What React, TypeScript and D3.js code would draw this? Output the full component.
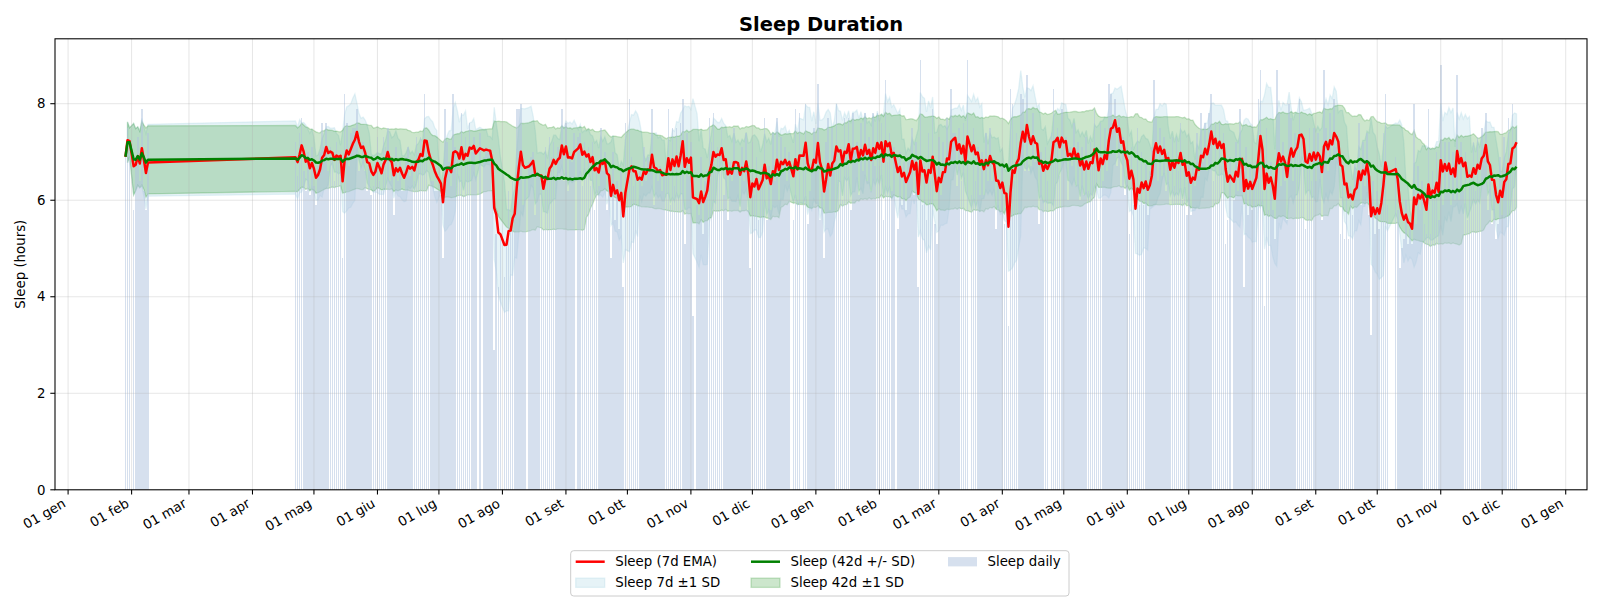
import React from 'react'
import * as d3 from 'd3'

const width = 1600
const height = 600
const plot = { left: 55, right: 1587, top: 38.8, bottom: 489.8 }
const DAY = 864e5
const font = 'DejaVu Sans, sans-serif'

const title = 'Sleep Duration'
const yLabel = 'Sleep (hours)'
const monthNames = ['gen', 'feb', 'mar', 'apr', 'mag', 'giu', 'lug', 'ago', 'set', 'ott', 'nov', 'dic']
const yTicks = [0, 2, 4, 6, 8]

// hours slept per night, one array per month from the given start date; null = no record
const jan2023 = [6.9, 7.5, 7.2]
const feb2023 = [null, 5.8, 6.8, 7.3, 6.4, 7.9, 6.2, 5.8, 7.4]
const apr2023 = [7.2, 6.5, 7.4, 7.7, 6.6, 6.2, 7.0, 6.1, 7.1]
const may2023 = [6.3, 5.9, 6.7, 7.0, 7.6, 7.1, 7.6, 6.6, 7.1, 6.9, 6.4, 7.2, 6.8, 7.0, 4.8, 8.2, 7.6, 6.7, 7.4, 7.5, 7.5, 7.9, 6.6, 6.7, 7.2, 6.6, 6.2, 6.7, 6.1, 6.3, 6.8]
const jun2023 = [7.3, 6.4, 6.2, 7.3, 7.1, 7.5, 6.4, 6.6, 5.7, 7.1, 6.4, 6.9, 6.2, 6.2, 6.9, 7.1, 6.5, 6.8, 6.4, 7.3, 7.0, 7.3, 6.8, 8.2, 7.2, 6.3, 6.4, 6.4, 6.2, 6.2]
const jul2023 = [6.2, 6.1, 4.8, 7.9, 7.2, 6.8, 6.3, 8.2, 7.1, 6.9, 6.5, 7.8, 6.1, 7.3, 6.8, 7.6, 7.0, 7.3, 6.5, null, 7.4, null, 6.9, 7.1, 7.0, 7.0, 6.2, 2.9, 5.3, 4.2, 5.2]
const aug2023 = [null, 4.4, 5.1, 6.2, 5.4, 6.4, 6.0, 7.9, 7.9, 8.0, 5.9, 6.5, null, 6.8, 6.9, 7.0, 5.7, 6.5, 6.5, 6.5, 5.4, 7.1, 6.4, 7.3, 6.9, 7.2, 6.5, 7.1, 7.0, 7.9, 6.4]
const sep2023 = [7.6, 6.2, 6.9, 6.8, 7.4, null, 7.3, 7.4, 6.3, 7.2, 6.6, 7.1, 6.3, 7.2, 5.8, 6.8, 6.3, 7.5, 6.6, 7.0, 5.8, 6.4, 4.8, 7.0, 5.6, 6.4, 5.4, 6.6, 4.2, 7.6]
const oct2023 = [null, 8.1, 6.9, 6.3, 6.6, 5.9, 6.6, 6.3, 7.1, 6.4, 6.9, 6.6, 7.9, 5.9, 6.6, 6.4, 6.7, 6.2, 6.6, 6.5, 7.9, 5.9, 7.5, 6.3, 7.5, 6.1, 7.6, 8.1, 5.1, 7.4, 6.5]
const nov2023 = [7.2, 3.6, null, 5.9, 5.7, 6.9, 5.3, 6.4, 6.6, 7.7, 7.2, 7.8, 6.6, 7.1, 6.9, 7.5, 6.1, 6.9, 5.6, 6.8, 6.4, 7.5, 6.8, 6.7, 5.8, 7.1, 6.4, 7.4, 5.8, 4.6]
const dec2023 = [7.2, 6.1, 6.9, 5.6, 6.6, 6.7, 7.7, 5.6, 6.7, 5.8, 7.4, 6.4, 7.7, 6.0, 7.3, 6.6, 7.1, 6.4, 7.0, null, 5.6, 7.9, 6.0, 7.8, null, 6.9, 8.0, 5.5, 6.2, 6.6, 7.5]
const jan2024 = [6.6, 8.4, 5.6, 6.2, 4.8, 7.2, 7.7, 5.8, 7.5, 7.0, 8.0, 6.7, 7.1, 6.0, 7.7, 6.9, 7.7, 5.8, 7.8, 7.1, 7.2, 6.1, 7.6, 6.6, 7.8, 6.4, 7.3, 6.2, 7.8, 6.7, 7.8]
const feb2024 = [6.7, 7.6, 5.6, 8.5, 6.8, 7.4, 6.2, 7.1, null, 5.4, 7.0, 5.9, 6.8, 5.8, 6.8, 6.9, 7.5, 6.1, 7.2, 4.2, 8.9, 5.9, 6.7, 5.6, 7.4, 6.4, 7.9, 5.5, 5.1]
const mar2024 = [7.3, 6.1, 7.2, 6.6, 7.7, 6.8, 8.3, 7.4, 7.4, 6.3, 7.5, 6.4, 7.6, 5.8, 8.9, null, 6.1, 7.5, 6.4, 7.1, 6.1, 7.0, 6.1, 7.4, 6.4, 7.5, 6.4, 6.6, 5.4, 6.4, 5.8]
const apr2024 = [6.7, 5.5, 6.1, 3.4, 8.3, 8.0, 6.4, 7.4, 7.1, 8.2, 8.1, 6.6, 8.6, 6.6, 6.7, 7.8, 6.8, 7.1, 5.5, 7.0, 6.0, 7.1, 6.4, null, 7.4, 8.3, 7.3, 7.5, 6.5, 7.9]
const may2024 = [6.9, 7.3, 6.0, 7.1, 6.7, 7.6, 6.3, 7.2, 6.0, 7.1, 6.1, 7.3, 6.2, 7.2, 6.7, 7.9, 6.7, 5.6, 7.6, 6.4, 7.5, 6.6, 8.4, 8.2, 7.6, 8.1, 6.7, 7.7, 6.3, 7.3, 6.1]
const jun2024 = [6.5, 5.3, 7.1, 5.9, 4.0, 7.5, 5.9, 7.0, 5.9, 6.8, 5.7, 6.6, 7.1, 8.5, 7.7, 6.4, 7.5, 6.5, 7.3, 6.2, 7.0, 5.9, 7.3, 6.3, 7.3, 6.6, 7.6, 6.0, 6.9, 5.7]
const jul2024 = [6.8, 5.7, 6.8, 6.3, 7.4, 6.5, 7.8, 6.8, 7.6, 6.6, 7.8, 8.2, 6.4, 7.6, 6.5, 7.6, 6.7, 7.4, 5.1, 5.6, 6.9, null, 6.0, 7.2, 6.2, 7.9, 6.9, 4.2, 7.1, 5.7, 6.8]
const aug2024 = [5.8, 6.7, 6.8, 8.1, 8.7, 6.2, 3.8, 7.5, 5.8, 6.8, 5.8, 5.2, 8.7, 7.8, 6.3, 7.2, 6.4, 5.6, 8.0, 7.7, 6.4, 7.4, 7.3, 8.1, 7.4, 7.0, 5.4, 6.7, 7.5, 6.4, 7.5]
const sep2024 = [6.4, 7.4, 6.7, 5.6, 8.7, 7.5, 6.6, 7.8, 6.9, 8.1, 7.1, 6.9, 5.3, 6.6, 5.2, 6.4, 5.2, 6.3, 5.7, 6.8, 6.4, 7.6, 5.9, 7.2, 6.3, 7.4, 5.7, 3.2, 6.4, 5.3]
const oct2024 = [6.2, 5.4, 6.6, 7.4, 8.2, 5.9, null, null, null, 6.9, 5.8, 4.6, 5.0, 5.2, 6.0, 5.1, 5.4, 5.1, 8.0, 5.5, 6.7, 5.8, 6.4, 5.5, 5.3, 7.9, 5.3, 6.6, 6.0, 7.0, 5.6]
const nov2024 = [8.8, 5.9, 7.2, 6.2, 7.2, 5.9, 7.0, 6.0, 8.6, 6.0, 7.2, 6.2, 7.0, 5.6, 6.6, 6.4, 7.2, 6.2, 7.3, 6.4, 7.5, 7.1, 7.8, 5.8, 6.5, 5.5, 6.4, 5.2, 5.5, 6.9]
const dec2024 = [5.7, 7.3, 6.6, 7.7, 6.8, 8.0, 7.2, 7.5]

const records: [string, (number | null)[]][] = [
  ['2023-01-29', jan2023], ['2023-02-01', feb2023], ['2023-04-22', apr2023],
  ['2023-05-01', may2023], ['2023-06-01', jun2023], ['2023-07-01', jul2023],
  ['2023-08-01', aug2023], ['2023-09-01', sep2023], ['2023-10-01', oct2023],
  ['2023-11-01', nov2023], ['2023-12-01', dec2023], ['2024-01-01', jan2024],
  ['2024-02-01', feb2024], ['2024-03-01', mar2024], ['2024-04-01', apr2024],
  ['2024-05-01', may2024], ['2024-06-01', jun2024], ['2024-07-01', jul2024],
  ['2024-08-01', aug2024], ['2024-09-01', sep2024], ['2024-10-01', oct2024],
  ['2024-11-01', nov2024], ['2024-12-01', dec2024],
]

type Row = {
  date: Date
  hours: number
  ema: number
  mean7: number
  sd7?: number
  mean42: number
  sd42?: number
}

const rows: Row[] = []
records.forEach(([start, values]) => {
  const t0 = Date.parse(`${start}T00:00:00Z`)
  values.forEach((v, i) => {
    if (v != null) rows.push({ date: new Date(t0 + i * DAY), hours: v, ema: 0, mean7: 0, mean42: 0 })
  })
})

// 7-row exponential moving average (span 7, adjusted weights)
const alpha = 2 / (7 + 1)
let num = 0
let den = 0
rows.forEach((r) => {
  num = r.hours + (1 - alpha) * num
  den = 1 + (1 - alpha) * den
  r.ema = num / den
})

// rolling windows over recorded nights
rows.forEach((r, i) => {
  const w7 = rows.slice(Math.max(0, i - 6), i + 1).map((d) => d.hours)
  const w42 = rows.slice(Math.max(0, i - 41), i + 1).map((d) => d.hours)
  r.mean7 = d3.mean(w7) as number
  r.sd7 = d3.deviation(w7)
  r.mean42 = d3.mean(w42) as number
  r.sd42 = d3.deviation(w42)
})

// x limits: bar extents plus 5% padding on each side
const lo = rows[0].date.getTime() - 0.4 * DAY
const hi = rows[rows.length - 1].date.getTime() + 0.4 * DAY
const pad = (hi - lo) * 0.05
const x = d3.scaleUtc().domain([new Date(lo - pad), new Date(hi + pad)]).range([plot.left, plot.right])
const yMax = (d3.max(rows, (d) => d.hours) as number) * 1.05
const y = d3.scaleLinear().domain([0, yMax]).range([plot.bottom, plot.top])

const monthTicks = d3.utcMonth.range(d3.utcMonth.ceil(x.domain()[0]), x.domain()[1])

const band7 = d3
  .area<Row>()
  .defined((d) => d.sd7 != null)
  .x((d) => x(d.date))
  .y0((d) => y(d.mean7 - (d.sd7 as number)))
  .y1((d) => y(d.mean7 + (d.sd7 as number)))
const band42 = d3
  .area<Row>()
  .defined((d) => d.sd42 != null)
  .x((d) => x(d.date))
  .y0((d) => y(d.mean42 - (d.sd42 as number)))
  .y1((d) => y(d.mean42 + (d.sd42 as number)))
const emaLine = d3.line<Row>().x((d) => x(d.date)).y((d) => y(d.ema))
const meanLine = d3.line<Row>().x((d) => x(d.date)).y((d) => y(d.mean42))

const colors = {
  ema: '#ff0000',
  mean42: '#008000',
  band7: '#add8e6',
  band42: '#008000',
  daily: '#b0c4de',
}
const lineWidth = 2.5

const Legend = () => {
  const left = 570.7
  const top = 550.7
  const rowY = [561.7, 582.7]
  const cols = [575.7, 751, 948]
  const handleW = 29
  const textGap = 39.5
  const line = (cx: number, cy: number, color: string) => (
    <line x1={cx} x2={cx + handleW} y1={cy} y2={cy} stroke={color} strokeWidth={lineWidth} />
  )
  const patch = (cx: number, cy: number, color: string, opacity: number, edge: boolean) => (
    <rect
      x={cx}
      y={cy - 4.6}
      width={handleW}
      height={9.3}
      fill={color}
      fillOpacity={opacity}
      stroke={edge ? color : 'none'}
      strokeOpacity={opacity}
      strokeWidth={1.3}
    />
  )
  const label = (cx: number, cy: number, text: string) => (
    <text x={cx + textGap} y={cy + 4.7} fontSize={13.33} fill="#000">
      {text}
    </text>
  )
  return (
    <g fontFamily={font}>
      <rect x={left} y={top} width={498.3} height={45.3} rx={3} fill="#fff" fillOpacity={0.8} stroke="#cccccc" strokeWidth={1} />
      {line(cols[0], rowY[0], colors.ema)}
      {label(cols[0], rowY[0], 'Sleep (7d EMA)')}
      {patch(cols[0], rowY[1], colors.band7, 0.3, true)}
      {label(cols[0], rowY[1], 'Sleep 7d ±1 SD')}
      {line(cols[1], rowY[0], colors.mean42)}
      {label(cols[1], rowY[0], 'Sleep (42d +/- SD)')}
      {patch(cols[1], rowY[1], colors.band42, 0.2, true)}
      {label(cols[1], rowY[1], 'Sleep 42d ±1 SD')}
      {patch(cols[2], rowY[0], colors.daily, 0.52, false)}
      {label(cols[2], rowY[0], 'Sleep daily')}
    </g>
  )
}

const App = () => {
  const barHalf = 0.4 * DAY
  return (
    <svg
      width={width}
      height={height}
      viewBox={`0 0 ${width} ${height}`}
      style={{ position: 'absolute', left: 0, top: 0, background: '#fff' }}
      fontFamily={font}
    >
      <rect width={width} height={height} fill="#fff" />
      <defs>
        <clipPath id="plot-clip">
          <rect x={plot.left} y={plot.top} width={plot.right - plot.left} height={plot.bottom - plot.top} />
        </clipPath>
      </defs>

      <g clipPath="url(#plot-clip)">
        <path
          d={band7(rows) ?? ''}
          fill={colors.band7}
          fillOpacity={0.3}
          stroke={colors.band7}
          strokeOpacity={0.3}
          strokeWidth={1.3}
        />
        <path
          d={band42(rows) ?? ''}
          fill={colors.band42}
          fillOpacity={0.2}
          stroke={colors.band42}
          strokeOpacity={0.2}
          strokeWidth={1.3}
        />
        <g fill={colors.daily} fillOpacity={0.52} shapeRendering="crispEdges">
          {rows.map((d) => {
            const x0 = x(new Date(d.date.getTime() - barHalf))
            const x1 = x(new Date(d.date.getTime() + barHalf))
            return <rect key={d.date.getTime()} x={x0} y={y(d.hours)} width={x1 - x0} height={y(0) - y(d.hours)} />
          })}
        </g>

        <g stroke="#b0b0b0" strokeOpacity={0.4} strokeWidth={0.8}>
          {monthTicks.map((t) => (
            <line key={t.getTime()} x1={x(t)} x2={x(t)} y1={plot.top} y2={plot.bottom} />
          ))}
          {yTicks.map((v) => (
            <line key={v} x1={plot.left} x2={plot.right} y1={y(v)} y2={y(v)} />
          ))}
        </g>

        <path d={emaLine(rows) ?? ''} fill="none" stroke={colors.ema} strokeWidth={lineWidth} strokeLinejoin="round" />
        <path d={meanLine(rows) ?? ''} fill="none" stroke={colors.mean42} strokeWidth={lineWidth} strokeLinejoin="round" />
      </g>

      <rect
        x={plot.left}
        y={plot.top}
        width={plot.right - plot.left}
        height={plot.bottom - plot.top}
        fill="none"
        stroke="#000"
        strokeWidth={1.07}
      />

      {yTicks.map((v) => (
        <g key={v}>
          <line x1={plot.left - 4.7} x2={plot.left} y1={y(v)} y2={y(v)} stroke="#000" strokeWidth={1.07} />
          <text x={plot.left - 9.4} y={y(v) + 4.7} textAnchor="end" fontSize={13.33} fill="#000">
            {v}
          </text>
        </g>
      ))}

      {monthTicks.map((t) => {
        const tx = x(t)
        return (
          <g key={t.getTime()}>
            <line x1={tx} x2={tx} y1={plot.bottom} y2={plot.bottom + 4.7} stroke="#000" strokeWidth={1.07} />
            <text
              transform={`translate(${tx - 1.4},${plot.bottom + 16.3}) rotate(-30)`}
              textAnchor="end"
              fontSize={13.33}
              fill="#000"
            >
              {`01 ${monthNames[t.getUTCMonth()]}`}
            </text>
          </g>
        )
      })}

      <text
        transform={`translate(25,${(plot.top + plot.bottom) / 2}) rotate(-90)`}
        textAnchor="middle"
        fontSize={13.33}
        fill="#000"
      >
        {yLabel}
      </text>

      <text x={(plot.left + plot.right) / 2} y={30.5} textAnchor="middle" fontSize={19.5} fontWeight="bold" fill="#000">
        {title}
      </text>

      <Legend />
    </svg>
  )
}

export default App
